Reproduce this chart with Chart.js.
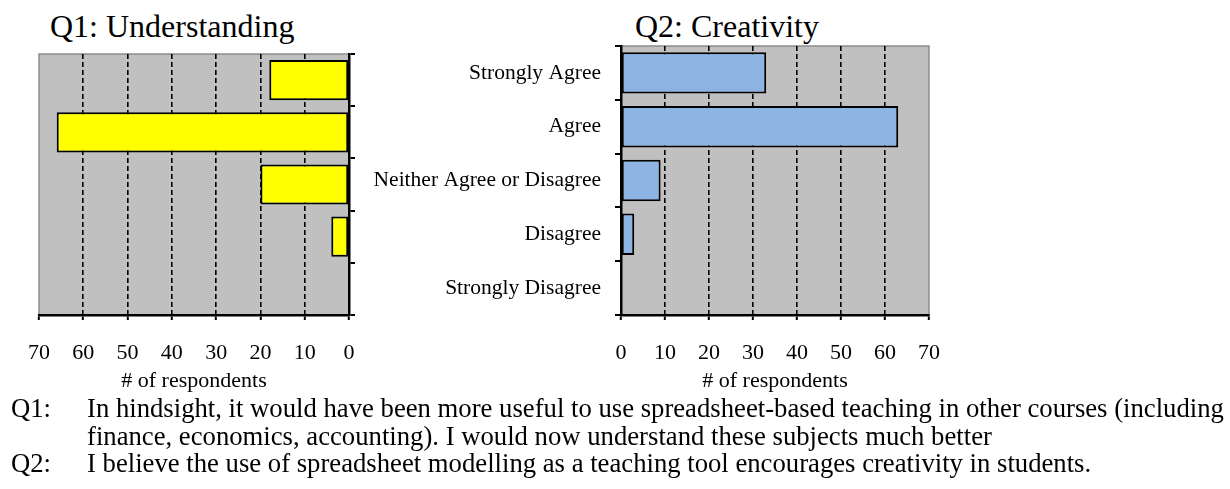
<!DOCTYPE html>
<html>
<head>
<meta charset="utf-8">
<script src="https://cdn.jsdelivr.net/npm/chart.js@4/dist/chart.umd.min.js"></script>
<style>
  body { margin: 0; background: #fff; color: #000; font-family: "Liberation Serif", "Times New Roman", serif; }
  #page { position: relative; width: 1230px; height: 489px; overflow: hidden; }
  .box { position: absolute; top: 0; height: 395px; }
  .title { position: absolute; top: 10px; font-size: 32px; line-height: 32px; white-space: nowrap; }
  .cap { position: absolute; top: 395px; font-size: 26.7px; line-height: 27.5px; white-space: nowrap; }
</style>
</head>
<body>
<div id="page">
  <div class="title" style="left:50px">Q1: Understanding</div>
  <div class="title" style="left:635px">Q2: Creativity</div>

  <div class="box" style="left:0; width:380px"><canvas id="q1"></canvas></div>
  <div class="box" style="left:360px; width:600px"><canvas id="q2"></canvas></div>

  <div class="cap" style="left:11px">Q1:<br><br>Q2:</div>
  <div class="cap" style="left:87px">In hindsight, it would have been more useful to use spreadsheet-based teaching in other courses (including<br>finance, economics, accounting). I would now understand these subjects much better<br>I believe the use of spreadsheet modelling as a teaching tool encourages creativity in students.</div>
</div>

<script>
// svarsalternativ (samma för båda frågorna)
const categories = ['Strongly Agree', 'Agree', 'Neither Agree or Disagree', 'Disagree', 'Strongly Disagree'];

// antal svarande per alternativ
const q1Values = [18, 66, 20, 4, 0];
const q2Values = [33, 63, 9, 3, 0];

// x-axelns skala
const xMin = 0;
const xMax = 70;
const xStep = 10;
const axisTitle = '# of respondents';

Chart.defaults.font.family = '"Liberation Serif", "Times New Roman", serif';
Chart.defaults.color = '#000';

// grå bakgrund i plotytan, som i Excel
const plotBackground = {
    id: 'plotBackground',
    beforeDraw(chart) {
        const { ctx, chartArea: a } = chart;
        ctx.save();
        ctx.fillStyle = '#c0c0c0';
        ctx.fillRect(a.left, a.top, a.right - a.left, a.bottom - a.top);
        ctx.strokeStyle = '#8c8c8c';
        ctx.lineWidth = 1.5;
        ctx.strokeRect(a.left, a.top, a.right - a.left, a.bottom - a.top);
        ctx.restore();
    }
};

function barChart(canvasEl, values, color, mirrored) {
    new Chart(canvasEl, {
        type: 'bar',
        data: {
            labels: categories,
            datasets: [{
                data: values,
                backgroundColor: color,
                borderColor: '#000',
                borderWidth: 2,
                borderSkipped: false,
                barPercentage: 0.77,
                categoryPercentage: 1
            }]
        },
        options: {
            indexAxis: 'y',
            responsive: true,
            maintainAspectRatio: false,
            animation: false,
            layout: {
                padding: mirrored ? { left: 39, top: 54, right: 0, bottom: 0 } : { left: 0, top: 46, right: 27, bottom: 0 }
            },
            plugins: { legend: { display: false }, tooltip: { enabled: false } },
            scales: {
                x: {
                    min: xMin,
                    max: xMax,
                    reverse: mirrored,
                    afterFit: s => { s.height = 80; },
                    ticks: { stepSize: xStep, padding: 20, font: { size: 22 } },
                    grid: {
                        color: c => (c.tick && (c.tick.value === xMin || c.tick.value === xMax)) ? 'rgba(0,0,0,0)' : '#000',
                        lineWidth: 1.6,
                        tickColor: '#000',
                        tickLength: 5,
                        tickWidth: 2
                    },
                    border: { display: true, color: '#000', width: 2.5, dash: [5, 3] },
                    title: { display: true, text: axisTitle, font: { size: 22 }, padding: { top: 0, bottom: 1 } }
                },
                y: {
                    position: mirrored ? 'right' : 'left',
                    afterFit: s => { s.width = mirrored ? 31 : 261; },
                    ticks: {
                        padding: 14,
                        font: { size: 21.5 },
                        callback: function (v) { return mirrored ? '' : this.getLabelForValue(v); }
                    },
                    grid: { drawOnChartArea: false, color: '#000', tickLength: 6, lineWidth: 2 },
                    border: { display: true, color: '#000', width: 2.5 }
                }
            }
        },
        plugins: [plotBackground]
    });
}

barChart(document.getElementById('q1'), q1Values, '#ffff00', true);
barChart(document.getElementById('q2'), q2Values, '#8db4e2', false);
</script>
</body>
</html>
